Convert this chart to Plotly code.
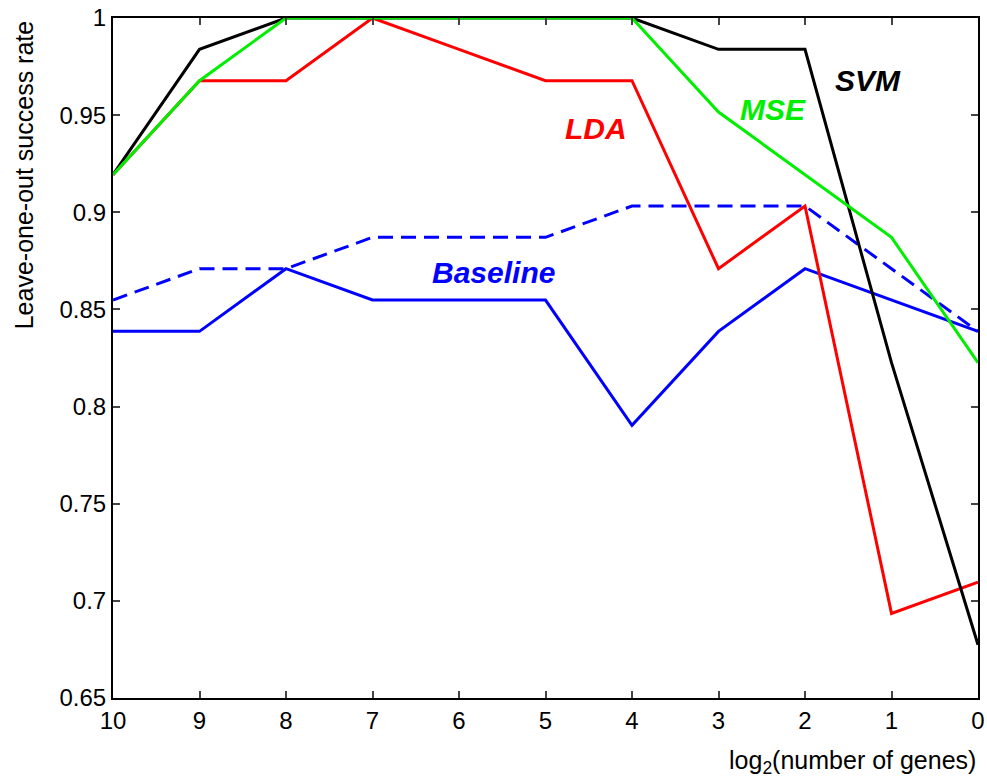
import plotly.graph_objects as go

x = [10, 9, 8, 7, 6, 5, 4, 3, 2, 1, 0]
svm = [57/62, 61/62, 1, 1, 1, 1, 1, 61/62, 61/62, 51/62, 42/62]
lda = [57/62, 60/62, 60/62, 1, 61/62, 60/62, 60/62, 54/62, 56/62, 43/62, 44/62]
mse = [57/62, 60/62, 1, 1, 1, 1, 1, 59/62, 57/62, 55/62, 51/62]
base_dash = [53/62, 54/62, 54/62, 55/62, 55/62, 55/62, 56/62, 56/62, 56/62, 54/62, 52/62]
base_solid = [52/62, 52/62, 54/62, 53/62, 53/62, 53/62, 49/62, 52/62, 54/62, 53/62, 52/62]
yticks = [0.65, 0.7, 0.75, 0.8, 0.85, 0.9, 0.95, 1]
ytick_text = ["0.65", "0.7", "0.75", "0.8", "0.85", "0.9", "0.95", "1"]

fig = go.Figure()
fig.add_trace(go.Scatter(x=x, y=base_dash, mode="lines", line=dict(color="#0000ff", width=3, dash="15px,8px")))
fig.add_trace(go.Scatter(x=x, y=base_solid, mode="lines", line=dict(color="#0000ff", width=3)))
fig.add_trace(go.Scatter(x=x, y=lda, mode="lines", line=dict(color="#ff0000", width=3)))
fig.add_trace(go.Scatter(x=x, y=svm, mode="lines", line=dict(color="#000000", width=3)))
fig.add_trace(go.Scatter(x=x, y=mse, mode="lines", line=dict(color="#00ee00", width=3)))

font_fam = "Liberation Sans, Arial, sans-serif"
labels = [("SVM", 1.27, 0.968, "#000000"), ("MSE", 2.37, 0.953, "#00ee00"),
          ("LDA", 4.42, 0.943, "#ff0000"), ("Baseline", 5.6, 0.869, "#0000ff")]
for txt, lx, ly, col in labels:
    fig.add_annotation(x=lx, y=ly, text="<b><i>" + txt + "</i></b>", showarrow=False,
                       font=dict(family=font_fam, size=30, color=col))

fig.add_annotation(xref="paper", yref="paper", x=1.0, y=-0.094, xanchor="right", yanchor="middle",
                   text="log<sub>2</sub>(number of genes)", showarrow=False,
                   font=dict(family=font_fam, size=25, color="black"))
fig.add_annotation(xref="paper", yref="paper", x=-0.103, y=0.77, xanchor="center", yanchor="middle",
                   text="Leave-one-out success rate", textangle=-90, showarrow=False,
                   font=dict(family=font_fam, size=25, color="black"))

fig.update_layout(
    width=987, height=780,
    margin=dict(l=113, r=9, t=18, b=82, autoexpand=False),
    plot_bgcolor="white", paper_bgcolor="white",
    showlegend=False,
    font=dict(family=font_fam, size=24, color="black"),
    xaxis=dict(range=[10, 0], tickvals=x, ticks="inside", ticklen=7, tickwidth=1.5,
               showline=True, linecolor="black", linewidth=2, mirror="ticks",
               showgrid=False, zeroline=False, automargin=False),
    yaxis=dict(range=[0.65, 1.0], tickvals=yticks, ticktext=ytick_text, ticks="inside",
               ticklen=7, tickwidth=1.5, showline=True, linecolor="black", linewidth=2,
               mirror="ticks", showgrid=False, zeroline=False, automargin=False),
)
fig.write_html("out.html")
